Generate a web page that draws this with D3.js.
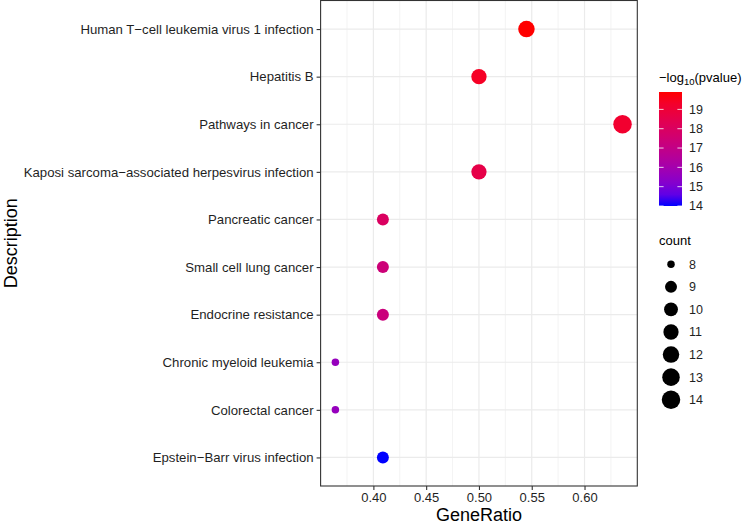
<!DOCTYPE html>
<html><head><meta charset="utf-8">
<script src="https://cdn.jsdelivr.net/npm/d3@7"></script>
<style>body{margin:0;background:#fff;} text{font-family:"Liberation Sans",Arial,Helvetica,sans-serif;}</style>
</head><body>
<svg id="c" width="750" height="528"></svg>
<script>
const categories = ["Human T\u2212cell leukemia virus 1 infection","Hepatitis B","Pathways in cancer","Kaposi sarcoma\u2212associated herpesvirus infection","Pancreatic cancer","Small cell lung cancer","Endocrine resistance","Chronic myeloid leukemia","Colorectal cancer","Epstein\u2212Barr virus infection"];
const geneRatio = [0.545,0.500,0.636,0.500,0.409,0.409,0.409,0.364,0.364,0.409];
const counts = [12,11,14,11,9,9,9,8,8,9];
const logP = [19.9,19.4,19.2,18.6,18.0,17.4,17.3,15.6,15.6,14.0];
const xTicks = [0.40,0.45,0.50,0.55,0.60];
const colorTicks = [14,15,16,17,18,19];
const sizeBreaks = [8,9,10,11,12,13,14];

const svg = d3.select("#c");
const L=320.6, R=637.3, T=0.5, B=486;
const x = d3.scaleLinear().domain([0.35,0.65]).range([L,R]);
const y = d3.scalePoint().domain(categories).range([T,B]).padding(0.6);
const cMin=d3.min(logP), cMax=d3.max(logP);
const color = d3.scaleLinear().domain([cMin,cMax]).range(["blue","red"]).interpolate(d3.interpolateLab);
const tS = d3.scaleLinear().domain([8,14]).range([0,1]);
const rS = d3.scaleLinear().domain([0,1]).range([3.75,9.25]);
const radius = c => rS(Math.sqrt(tS(c)));
const txt = "#1F1F1F";

// grid
const minor = d3.range(0.375,0.65,0.05);
svg.append("g").selectAll("line").data(minor).join("line")
  .attr("x1",d=>x(d)).attr("x2",d=>x(d)).attr("y1",T).attr("y2",B)
  .attr("stroke","#EBEBEB").attr("stroke-width",0.6);
svg.append("g").selectAll("line").data(xTicks).join("line")
  .attr("x1",d=>x(d)).attr("x2",d=>x(d)).attr("y1",T).attr("y2",B)
  .attr("stroke","#EBEBEB").attr("stroke-width",1.2);
svg.append("g").selectAll("line").data(categories).join("line")
  .attr("x1",L).attr("x2",R).attr("y1",d=>y(d)).attr("y2",d=>y(d))
  .attr("stroke","#EBEBEB").attr("stroke-width",1.2);

// points
const data = categories.map((c,i)=>({c,g:geneRatio[i],n:counts[i],p:logP[i]}));
svg.append("g").selectAll("circle").data(data).join("circle")
  .attr("cx",d=>x(d.g)).attr("cy",d=>y(d.c)).attr("r",d=>radius(d.n))
  .attr("fill",d=>color(d.p));

// border
svg.append("rect").attr("x",L).attr("y",T).attr("width",R-L).attr("height",B-T)
  .attr("fill","none").attr("stroke","#333333").attr("stroke-width",1.1);

// axes
const xa = svg.append("g").attr("transform",`translate(0,${B})`)
  .call(d3.axisBottom(x).tickValues(xTicks).tickFormat(d3.format(".2f")).tickSize(4).tickPadding(3));
xa.select(".domain").remove();
xa.selectAll("line").attr("stroke","#333333").attr("stroke-width",1.1);
xa.selectAll("text").attr("font-size",13).attr("fill",txt).style("font-family","Liberation Sans, Arial, sans-serif");
const ya = svg.append("g").attr("transform",`translate(${L},0)`)
  .call(d3.axisLeft(y).tickSize(4).tickPadding(3));
ya.select(".domain").remove();
ya.selectAll("line").attr("stroke","#333333").attr("stroke-width",1.1);
ya.selectAll("text").attr("font-size",13.2).attr("fill",txt).style("font-family","Liberation Sans, Arial, sans-serif");

svg.append("text").attr("x",(L+R)/2).attr("y",521).attr("text-anchor","middle")
  .attr("font-size",18).attr("fill","#000").text("GeneRatio");
svg.append("text").attr("transform",`translate(17,${(T+B)/2}) rotate(-90)`).attr("text-anchor","middle")
  .attr("font-size",18).attr("fill","#000").text("Description");

// color legend
const lt = svg.append("text").attr("x",659).attr("y",82).attr("font-size",13);
lt.append("tspan").text("\u2212log");
lt.append("tspan").attr("font-size",9.5).attr("dy",3).text("10");
lt.append("tspan").attr("dy",-3).text("(pvalue)");
const cbT=92, cbB=206, cbL=659, cbW=23;
const cy = d3.scaleLinear().domain([cMin,cMax]).range([cbB,cbT]);
const grad = svg.append("defs").append("linearGradient").attr("id","cg")
  .attr("x1",0).attr("y1",1).attr("x2",0).attr("y2",0);
d3.range(0,1.0001,0.1).forEach(t=>{
  grad.append("stop").attr("offset",t).attr("stop-color",color(cMin+t*(cMax-cMin)));
});
svg.append("rect").attr("x",cbL).attr("y",cbT).attr("width",cbW).attr("height",cbB-cbT).attr("fill","url(#cg)");
const ct = svg.append("g");
colorTicks.forEach(v=>{
  ct.append("line").attr("x1",cbL).attr("x2",cbL+4.6).attr("y1",cy(v)).attr("y2",cy(v)).attr("stroke","#fff").attr("stroke-width",0.8);
  ct.append("line").attr("x1",cbL+cbW-4.6).attr("x2",cbL+cbW).attr("y1",cy(v)).attr("y2",cy(v)).attr("stroke","#fff").attr("stroke-width",0.8);
  ct.append("text").attr("x",689).attr("y",cy(v)).attr("dy","0.35em").attr("font-size",12.5).attr("fill",txt).text(v);
});

// size legend
svg.append("text").attr("x",659).attr("y",245).attr("font-size",13).text("count");
const sy = d3.scalePoint().domain(sizeBreaks).range([264.3,399.7]);
const sg = svg.append("g");
sizeBreaks.forEach(v=>{
  sg.append("circle").attr("cx",671).attr("cy",sy(v)).attr("r",radius(v)).attr("fill","#000");
  sg.append("text").attr("x",689).attr("y",sy(v)).attr("dy","0.35em").attr("font-size",12.5).attr("fill",txt).text(v);
});
</script>
</body></html>
